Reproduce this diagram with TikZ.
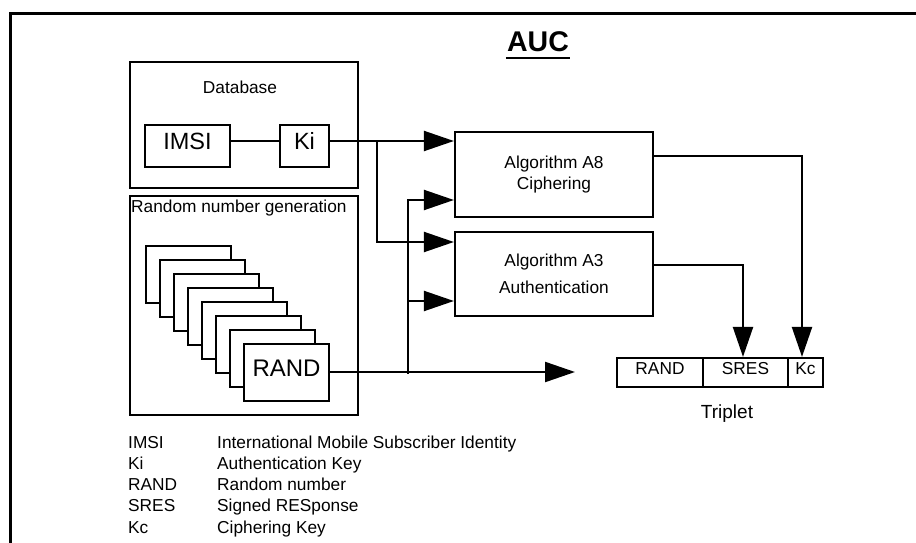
\documentclass[tikz,border=0pt]{standalone}
\usepackage{fontspec}
\setmainfont{Liberation Sans}
\usetikzlibrary{arrows.meta,calc}
\begin{document}
\begin{tikzpicture}[x=1pt,y=-1pt,
  box/.style={draw,line width=2.2pt,inner sep=0pt,fill=white},
  f17/.style={font=\fontsize{17.3}{21}\selectfont},
  big/.style={font=\fontsize{23.5}{28}\selectfont,text height=16.8pt,text depth=9pt},
  cell/.style={box,minimum height=29pt,font=\fontsize{17.3}{21}\selectfont,text height=12.2pt,text depth=8pt},
  card/.style={box,line width=2pt,minimum width=85pt,minimum height=57pt},
  conn/.style={line width=2.2pt},
  arr/.style={conn,-{Triangle[length=30pt,width=20pt]}}]
\useasboundingbox (0,0) rectangle (916,543);
% outer frame (cropped)
\draw[line width=3pt] (10.5,560) -- (10.5,13.5) -- (930,13.5);
% title
\node[font=\fontsize{28.5}{34}\selectfont\bfseries,anchor=base,inner sep=0pt] (auc) at (538,52) {AUC};
\draw[line width=2.3pt] ($(auc.base west)+(-1,6)$) -- ($(auc.base east)+(1,6)$);
% database
\node[box,minimum width=228pt,minimum height=126pt] (db) at (244,125) {};
\node[f17,anchor=base] (dblbl) at (240,93) {Database};
\node[box,big,minimum width=85pt,minimum height=42pt] (imsi) at (187.5,146) {IMSI};
\node[box,big,minimum width=49pt,minimum height=42pt] (ki) at (304.5,146) {Ki};
% random number generation
\node[box,minimum width=228pt,minimum height=219pt] (rng) at (244,305.5) {};
\node[f17,anchor=base west,inner sep=0pt] (rnglbl) at (131,212) {Random number generation};
\foreach \i in {0,...,6}
  \node[card] (card\i) at ({188.5+14*\i},{274.5+14*\i}) {};
\node[card,font=\fontsize{24}{28}\selectfont,text height=17.2pt,text depth=10pt] (rand) at (286.5,372.5) {RAND};
% algorithms
\node[box,f17,align=center,minimum width=198pt,minimum height=85pt] (a8) at (554,174.2) {Algorithm A8\\Ciphering};
\node[box,font=\fontsize{17.3}{27}\selectfont,align=center,minimum width=198pt,minimum height=84.3pt] (a3) at (554,273.8) {Algorithm A3\\Authentication};
% triplet
\node[cell,minimum width=86pt] (tr) at (660,372.5) {RAND};
\node[cell,minimum width=85pt] (sres) at (745.5,372.5) {SRES};
\node[cell,minimum width=35pt] (kc) at (805.5,372.5) {Kc};
\node[font=\fontsize{19}{23}\selectfont,anchor=base] (trip) at (727,418) {Triplet};
% connector levels
\coordinate (yA) at (0,141);
\coordinate (yB) at (0,200);
\coordinate (yC) at (0,242);
\coordinate (yD) at (0,301);
\coordinate (yE) at (0,156);
\coordinate (yF) at (0,265);
\coordinate (kisplit) at (377,141);
\coordinate (randsplit) at (408,372);
\coordinate (randout) at (575,372);
% connectors
\draw[conn] (imsi.east|-yA) -- (ki.west|-yA);
\draw[arr] (ki.east|-yA) -- (a8.west|-yA);
\draw[arr] (kisplit) |- (a3.west|-yC);
\draw[arr] (rand.east|-randsplit) -- (randout);
\draw[arr] ($(randsplit)+(0,1.5)$) |- (a8.west|-yB);
\draw[arr] (randsplit|-yD) -- (a3.west|-yD);
\draw[arr] (a8.east|-yE) -| ($(kc.north)+(-3.5,0)$);
\draw[arr] (a3.east|-yF) -| ($(sres.north)+(-2.5,0)$);
% legend
\foreach \k/\v [count=\n from 0] in {IMSI/International Mobile Subscriber Identity,Ki/Authentication Key,RAND/Random number,SRES/Signed RESponse,Kc/Ciphering Key}{
  \node[f17,anchor=base west,inner sep=0pt] (lk\n) at (128,{448+21.3*\n}) {\k};
  \node[f17,anchor=base west,inner sep=0pt] (lv\n) at (217,{448+21.3*\n}) {\v};
}
\end{tikzpicture}
\end{document}
